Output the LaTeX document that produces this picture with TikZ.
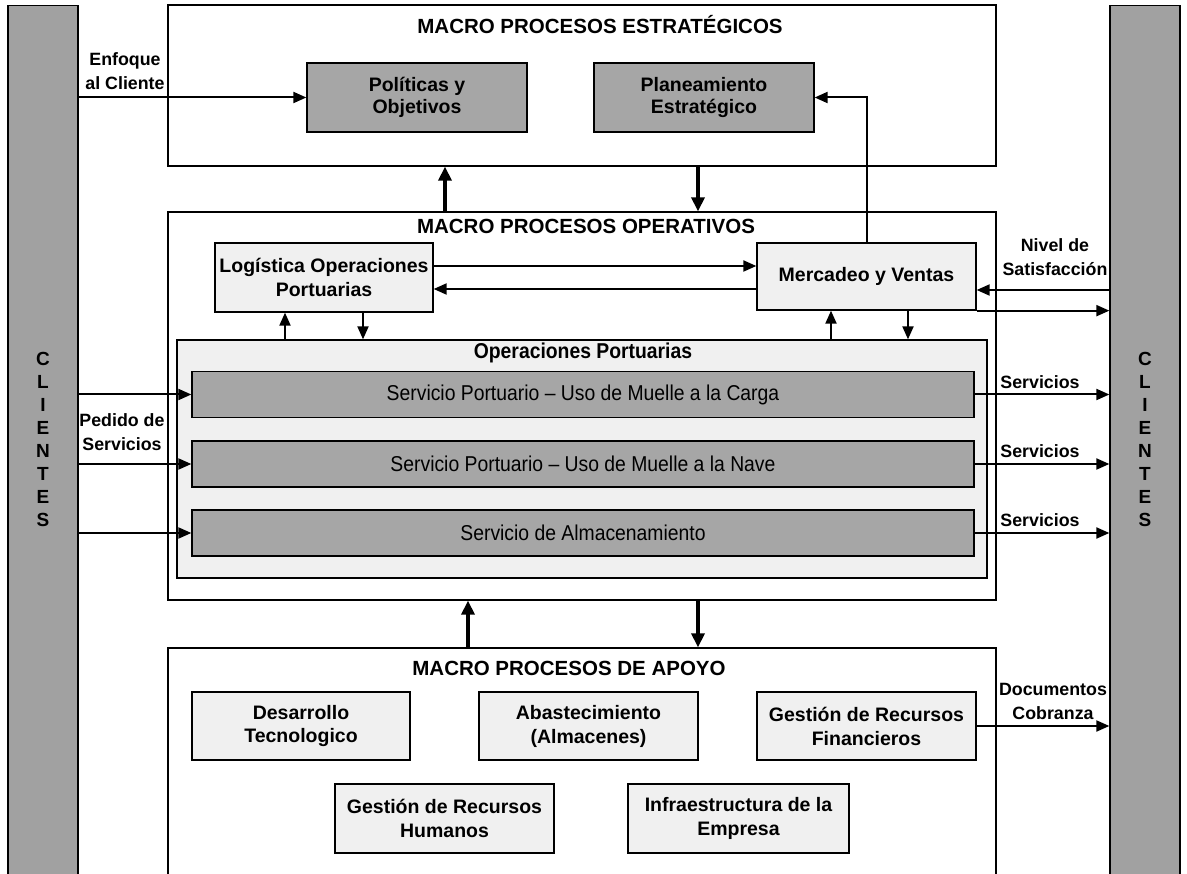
\documentclass[tikz,border=0pt]{standalone}
\usepackage{fontspec}
\setmainfont{Liberation Sans}
\newfontfamily\narrowfont[FakeStretch=0.9]{Liberation Sans}
\usetikzlibrary{arrows.meta}
\begin{document}
\begin{tikzpicture}[x=1pt,y=-1pt,
  box/.style={draw, line width=1.3pt, inner sep=0pt, align=center},
  frame/.style={box, fill=white},
  bar/.style={box, fill=black!37, minimum width=70pt, minimum height=900pt},
  dense/.style={box, fill=black!35, font=\bfseries\fontsize{19.5}{22}\selectfont},
  light/.style={box, fill=black!6, font=\bfseries\fontsize{19.5}{24}\selectfont},
  servbar/.style={box, fill=black!35, minimum width=782pt, minimum height=46pt,
    font=\narrowfont\fontsize{21.5}{24}\selectfont},
  title/.style={font=\bfseries\fontsize{20.5}{24}\selectfont, inner sep=0pt},
  lbl/.style={font=\bfseries\fontsize{17.8}{24}\selectfont, align=center, inner sep=0pt},
  vert/.style={font=\bfseries\fontsize{19}{23}\selectfont, align=center, inner sep=0pt},
  arr/.style={line width=2pt, -{Triangle[length=13pt,width=11pt]}},
  bigarr/.style={line width=3.5pt, -{Triangle[length=14pt,width=13pt]}}
]
\useasboundingbox (0,0) rectangle (1187,874);

% customer columns on both sides
\node[bar, anchor=north] (cliL) at (43,5) {};
\node[bar, anchor=north] (cliR) at (1145,5) {};
\node[vert] (cliLt) at (43,439) {C\\L\\I\\E\\N\\T\\E\\S};
\node[vert] (cliRt) at (1145,439) {C\\L\\I\\E\\N\\T\\E\\S};

% macro process frames
\node[frame, minimum width=828pt, minimum height=161pt] (est) at (582,85.5) {};
\node[frame, minimum width=828pt, minimum height=388pt] (op) at (582,406) {};
\node[frame, minimum width=828pt, minimum height=260pt] (apo) at (582,778) {};

\node[title] (estT) at (600,25) {MACRO PROCESOS ESTRATÉGICOS};
\node[title] (opT) at (586,226) {MACRO PROCESOS OPERATIVOS};
\node[title] (apoT) at (569,668) {MACRO PROCESOS DE APOYO};

% strategic processes
\node[dense, minimum width=220pt, minimum height=69pt] (pol) at (417,97.5) {Políticas y\\Objetivos};
\node[dense, minimum width=220pt, minimum height=69pt] (plan) at (704,97.5) {Planeamiento\\Estratégico};

% operative processes
\node[light, minimum width=218pt, minimum height=69pt] (log) at (324,277.5) {Logística Operaciones\\Portuarias};
\node[light, minimum width=219pt, minimum height=67pt] (mer) at (866.5,276.5) {Mercadeo y Ventas};

\node[box, fill=black!6, minimum width=810pt, minimum height=238pt] (ops) at (582,459) {};
\node[font=\narrowfont\bfseries\fontsize{21.5}{24}\selectfont, inner sep=0pt] (opsT) at (583,353) {Operaciones Portuarias};
\node[servbar] (s1) at (583,394.5) {Servicio Portuario – Uso de Muelle a la Carga};
\node[servbar] (s2) at (583,464) {Servicio Portuario – Uso de Muelle a la Nave};
\node[servbar] (s3) at (583,533) {Servicio de Almacenamiento};

% support processes
\node[light, minimum width=218pt, minimum height=68pt] (des) at (301,726) {Desarrollo\\Tecnologico};
\node[light, minimum width=219pt, minimum height=68pt] (aba) at (588.5,726) {Abastecimiento\\(Almacenes)};
\node[light, minimum width=219pt, minimum height=68pt] (fin) at (866.5,726) {Gestión de Recursos\\Financieros};
\node[light, minimum width=219pt, minimum height=69pt] (hum) at (444.5,818.5) {Gestión de Recursos\\Humanos};
\node[light, minimum width=221pt, minimum height=69pt] (inf) at (738.5,818.5) {Infraestructura de la\\Empresa};

% flows between macro levels
\draw[bigarr] (445,0 |- op.north) -- (445,0 |- est.south);
\draw[bigarr] (698,0 |- est.south) -- (698,0 |- op.north);
\draw[bigarr] (468,0 |- apo.north) -- (468,0 |- op.south);
\draw[bigarr] (698,0 |- op.south) -- (698,0 |- apo.north);

% customer focus
\draw[arr] (cliL.east |- pol.west) -- (pol.west);
\node[lbl] (enf) at (125,71) {Enfoque\\al Cliente};

% sales feedback to planning
\draw[arr] (mer.north) |- (plan.east);

% logistics <-> sales
\draw[arr] (log.east |- 0,266) -- (mer.west |- 0,266);
\draw[arr] (mer.west |- 0,289) -- (log.east |- 0,289);

% satisfaction level
\draw[arr] (cliR.west |- 0,290) -- (mer.east |- 0,290);
\node[lbl] (niv) at (1055,257) {Nivel de\\Satisfacción};
\draw[arr] (mer.south east) -- (cliR.west |- mer.south east);

% logistics / sales <-> port operations
\draw[arr] (285,0 |- ops.north) -- (285,0 |- log.south);
\draw[arr] (363,0 |- log.south) -- (363,0 |- ops.north);
\draw[arr] (831,0 |- ops.north) -- (831,0 |- mer.south);
\draw[arr] (908,0 |- mer.south) -- (908,0 |- ops.north);

% service requests and delivered services
\draw[arr] (cliL.east |- s1.west) -- (s1.west);
\draw[arr] (cliL.east |- s2.west) -- (s2.west);
\draw[arr] (cliL.east |- s3.west) -- (s3.west);
\node[lbl] (ped) at (122,432) {Pedido de\\Servicios};

\draw[arr] (s1.east) -- (cliR.west |- s1.east);
\draw[arr] (s2.east) -- (cliR.west |- s2.east);
\draw[arr] (s3.east) -- (cliR.west |- s3.east);
\node[lbl, anchor=south] (sv1) at (1040,389) {Servicios};
\node[lbl, anchor=south] (sv2) at (1040,458) {Servicios};
\node[lbl, anchor=south] (sv3) at (1040,527) {Servicios};

% billing documents
\draw[arr] (fin.east) -- (cliR.west |- fin.east);
\node[lbl] (doc) at (1053,701) {Documentos\\Cobranza};
\end{tikzpicture}
\end{document}
